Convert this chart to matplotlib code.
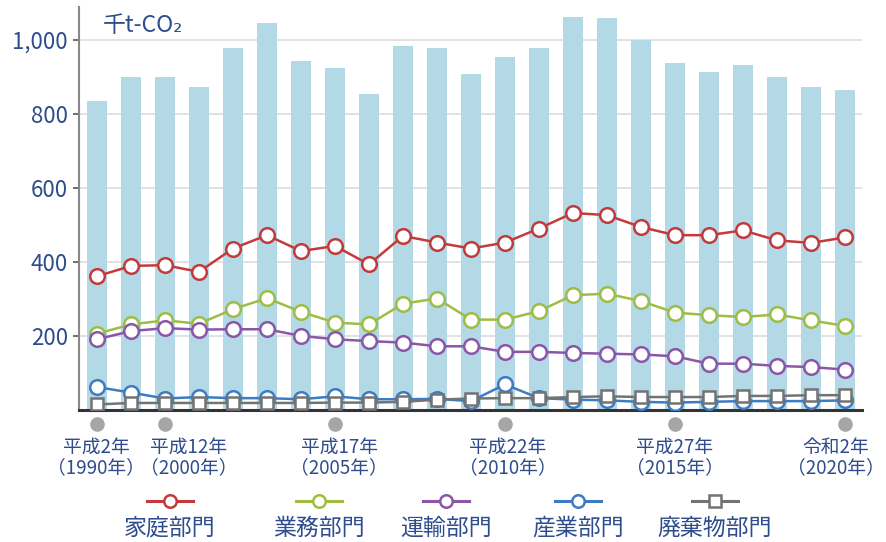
import numpy as np
import matplotlib.pyplot as plt
from matplotlib.lines import Line2D

plt.rcParams['font.family'] = ['Noto Sans CJK JP', 'DejaVu Sans']

# data (thousand t-CO2)
years = [1990, 1995] + list(range(2000, 2021))
total = [835, 898, 899, 872, 976, 1045, 942, 923, 854, 982, 978,
         907, 954, 978, 1061, 1058, 998, 937, 912, 931, 898, 871, 865]
katei = [361, 389, 391, 373, 436, 472, 429, 443, 393, 470, 452,
         436, 452, 490, 532, 526, 494, 472, 472, 485, 458, 451, 466]
gyomu = [206, 231, 242, 233, 272, 302, 265, 236, 231, 287, 301,
         244, 244, 267, 310, 314, 294, 263, 256, 251, 258, 242, 227]
unyu = [191, 213, 221, 217, 218, 218, 200, 191, 186, 182, 172,
        172, 157, 157, 154, 152, 150, 145, 125, 125, 119, 116, 109]
sangyo = [62, 47, 31, 35, 32, 32, 29, 37, 29, 29, 30,
          24, 69, 32, 28, 26, 22, 20, 22, 24, 24, 24, 26]
haiki = [15, 19, 19, 19, 19, 19, 19, 20, 20, 22, 28,
         31, 32, 32, 35, 37, 35, 35, 35, 38, 38, 40, 40]

label_years = [1990, 2000, 2005, 2010, 2015, 2020]
label_era = ['平成2年', '平成12年', '平成17年', '平成22年', '平成27年', '令和2年']
label_ad = ['（1990年）', '（2000年）', '（2005年）', '（2010年）', '（2015年）', '（2020年）']

series_names = ['家庭部門', '業務部門', '運輸部門', '産業部門', '廃棄物部門']
series_vals = [katei, gyomu, unyu, sangyo, haiki]
series_colors = ['#c43a3c', '#9dbd45', '#8a56a8', '#3d7cc2', '#737373']
series_markers = ['o', 'o', 'o', 'o', 's']

txt = '#2f4c8c'
W, H = 886, 542

fig = plt.figure(figsize=(8.86, 5.42), dpi=100)
ax = fig.add_axes([79 / W, 1 - 410 / H, (862 - 79) / W, (410 - 7) / H])

x = np.arange(len(years))
ax.bar(x, total, width=0.59, color='#b2d9e5', zorder=1)

for vals, c, m in zip(series_vals, series_colors, series_markers):
    ms = 10.5 if m == 'o' else 8
    ax.plot(x, vals, color=c, lw=1.8, marker=m, ms=ms, mfc='white',
            mec=c, mew=1.8, zorder=3)

ax.set_xlim(-0.53, 22.5)
ax.set_ylim(0, 1088)
ax.set_yticks([200, 400, 600, 800, 1000])
ax.set_yticklabels(['200', '400', '600', '800', '1,000'])
ax.tick_params(axis='y', colors='#555555', labelcolor=txt, labelsize=16,
               length=4, width=1.2, pad=4)
ax.set_xticks([])
ax.grid(axis='y', color='#dddddd', lw=1.2)
ax.set_axisbelow(True)
for s in ['top', 'right']:
    ax.spines[s].set_visible(False)
ax.spines['left'].set_color('#888888')
ax.spines['left'].set_linewidth(1.5)
ax.spines['bottom'].set_color('#333333')
ax.spines['bottom'].set_linewidth(2.2)

ax.text(0.03, 0.955, '千t-CO₂', transform=ax.transAxes, fontsize=16.5,
        color=txt, va='center', ha='left')

# year markers and labels under the axis (some labels nudged sideways, px)
label_shift = [-1, 24, 4, 3, 0, -9]
for yr, era, ad, dx in zip(label_years, label_era, label_ad, label_shift):
    i = years.index(yr)
    ax.plot(i, -39, 'o', ms=9.5, color='#a6a6a6', clip_on=False)
    tx = i + dx / 34.0
    ax.text(tx, -101, era, ha='center', va='center', fontsize=13.5,
            color=txt, clip_on=False)
    ax.text(tx, -155, ad, ha='center', va='center', fontsize=13.5,
            color=txt, clip_on=False)

# legend drawn below, marker line over each name
leg_x = [170, 319, 446, 578, 715]
for name, c, m, lx in zip(series_names, series_colors, series_markers, leg_x):
    fx, fy = lx / W, 1 - 501 / H
    fig.add_artist(Line2D([fx - 23 / W, fx + 23 / W], [fy, fy], color=c,
                          lw=2.2, transform=fig.transFigure))
    fig.add_artist(Line2D([fx], [fy], marker=m, ms=9 if m == 'o' else 8,
                          mfc='white', mec=c, mew=1.8, color=c,
                          transform=fig.transFigure))
    fig.text(fx, 1 - 528 / H, name, ha='center', va='center', fontsize=16.5,
             color=txt)

fig.savefig('out.png', dpi=100)
